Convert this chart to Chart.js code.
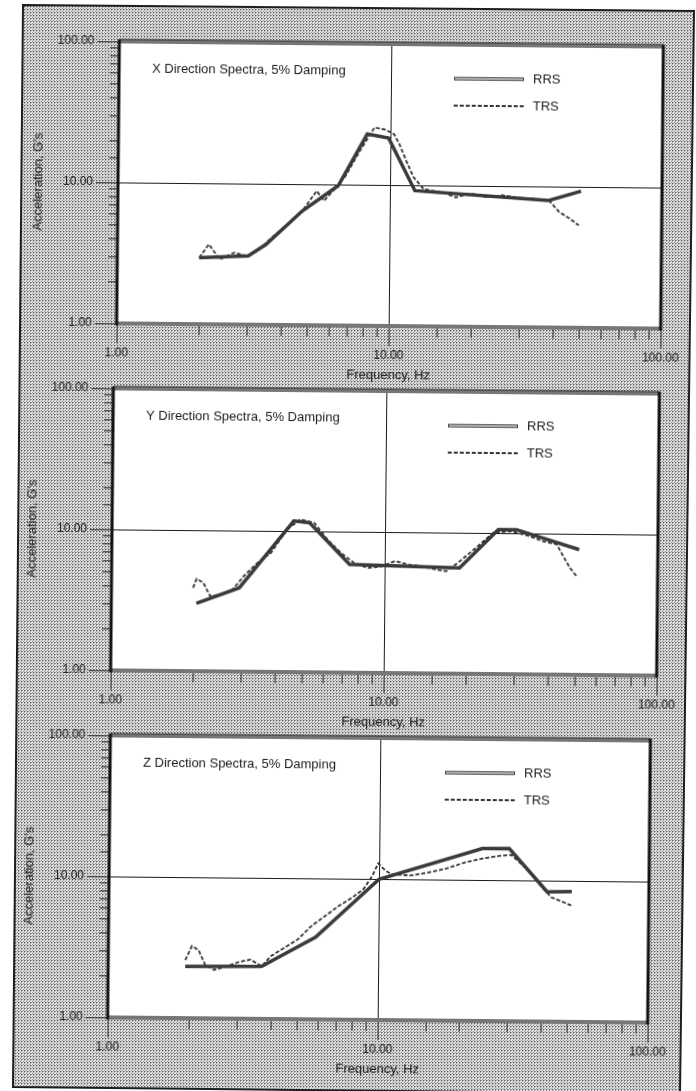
<!DOCTYPE html>
<html>
<head>
<meta charset="utf-8">
<script src="https://cdn.jsdelivr.net/npm/chart.js@4.4.1/dist/chart.umd.min.js"></script>
<style>
  html, body { margin: 0; padding: 0; background: #fff; }
  #page { position: relative; width: 696px; height: 1091px; overflow: hidden; }
  #bg { position: absolute; left: 0; top: 0; }
  canvas { position: absolute; }
</style>
</head>
<body>
<div id="page">
  <svg id="bg" width="696" height="1091">
    <defs>
      <pattern id="dots" width="3" height="3" patternUnits="userSpaceOnUse">
        <rect width="3" height="3" fill="#dcdcdc"/>
        <rect width="1" height="1" fill="#5e5e5e"/>
        <rect x="1" y="0" width="1" height="1" fill="#a8a8a8"/>
        <rect x="0" y="1" width="1" height="1" fill="#a8a8a8"/>
        <rect x="2" y="2" width="1" height="1" fill="#9a9a9a"/>
      </pattern>
    </defs>
    <polygon points="23,5 694,11 680,1094 13,1087" fill="url(#dots)" stroke="#1e1e1e" stroke-width="2"/>
  </svg>
</div>
<script>
// decade ticks on both log axes
const decadeTicks = [1, 10, 100];
const decadeLabels = ["1.00", "10.00", "100.00"];

// X direction: required (RRS) and test (TRS) response spectra, Hz vs G
const xRrsHz = [2.0, 3.03, 3.52, 4.77, 6.45, 8.22, 9.85, 12.35, 38.4, 50.4];
const xRrsG = [2.96, 3.07, 3.72, 6.46, 9.8, 22.9, 21.5, 9.15, 7.97, 9.3];
const xTrsHz = [2.0, 2.17, 2.38, 2.69, 3.03, 3.32, 3.75, 4.22, 4.77, 5.38, 5.72, 6.26, 6.86, 7.73, 8.73, 9.56,
  10.3, 10.8, 11.45, 12.2, 13.3, 15.5, 17.5, 19.7, 22.9, 25.9, 30.1, 34.0, 38.4, 42.0, 46.0, 49.6];
const xTrsG = [2.96, 3.69, 2.89, 3.23, 3.05, 3.43, 4.28, 5.19, 6.46, 8.98, 7.65, 9.27, 11.5, 17.4, 25.5, 24.7,
  23.0, 19.5, 14.9, 11.4, 9.4, 8.95, 8.26, 8.85, 8.3, 8.6, 8.27, 8.17, 7.97, 6.6, 5.93, 5.33];

// Y direction
const yRrsHz = [2.05, 2.94, 4.63, 5.29, 7.44, 18.8, 26.0, 30.3, 51.5];
const yRrsG = [3.03, 3.93, 11.8, 11.5, 5.85, 5.63, 10.6, 10.6, 7.73];
const yTrsHz = [1.99, 2.05, 2.17, 2.30, 2.52, 2.78, 3.05, 3.42, 3.83, 4.38, 4.9, 5.5, 6.16, 6.9, 7.72, 8.66,
  9.7, 10.9, 12.2, 13.65, 15.3, 16.8, 18.5, 21.5, 25.0, 29.1, 33.9, 38.0, 42.6, 45.1, 47.7, 50.5];
const yTrsG = [3.9, 4.52, 4.24, 3.42, 3.51, 3.82, 4.76, 5.93, 7.0, 10.3, 12.1, 11.5, 8.78, 7.07, 6.0, 5.55,
  5.68, 6.23, 5.9, 5.75, 5.47, 5.32, 6.1, 7.8, 10.1, 10.3, 9.55, 8.8, 8.4, 6.9, 5.73, 5.0];

// Z direction
const zRrsHz = [1.93, 3.70, 5.85, 10.0, 24.1, 30.3, 42.0, 51.8];
const zRrsG = [2.33, 2.36, 3.83, 9.95, 16.7, 16.8, 8.33, 8.4];
const zTrsHz = [1.93, 2.04, 2.16, 2.29, 2.47, 2.72, 3.06, 3.36, 3.70, 4.0, 4.48, 5.02, 5.63, 6.32, 7.09, 7.95,
  8.75, 9.44, 9.92, 10.6, 11.2, 13.1, 15.2, 17.7, 20.7, 24.1, 28.1, 30.9, 35.3, 39.7, 43.6, 47.9, 51.8];
const zTrsG = [2.58, 3.25, 3.04, 2.39, 2.21, 2.33, 2.53, 2.63, 2.36, 2.79, 3.2, 3.67, 4.58, 5.4, 6.38, 7.33,
  8.42, 10.5, 12.9, 11.4, 10.8, 10.65, 11.2, 11.97, 13.25, 14.2, 14.9, 15.1, 12.0, 9.18, 7.6, 7.1, 6.66];

const FONT = '"Liberation Sans", Arial, Helvetica, sans-serif';
const INK = "#1a1a1a";
const RRS_EDGE = "#3a3a3a";
const RRS_FILL = "#a8a8a8";
const TRS_COLOR = "#333333";

// plot area of each panel on the page: left, top, right, bottom
const panels = [
  { title: "X Direction Spectra, 5% Damping", area: [118, 44, 662, 326],
    rrs: [xRrsHz, xRrsG], trs: [xTrsHz, xTrsG] },
  { title: "Y Direction Spectra, 5% Damping", area: [112, 391, 658, 673],
    rrs: [yRrsHz, yRrsG], trs: [yTrsHz, yTrsG] },
  { title: "Z Direction Spectra, 5% Damping", area: [109, 738, 649, 1020],
    rrs: [zRrsHz, zRrsG], trs: [zTrsHz, zTrsG] },
];

const Y_AXIS_W = 96, PAD_TOP = 12, PAD_RIGHT = 26, X_AXIS_H = 66;

function isDecade(v) {
  return decadeTicks.indexOf(v) !== -1;
}

function points(hz, g) {
  return hz.map(function (f, i) { return { x: f, y: g[i] }; });
}

function logAxis(title, vertical) {
  return {
    type: "logarithmic",
    min: 1,
    max: 100,
    border: { display: false },
    grid: {
      color: function (c) { return c.tick && c.tick.value === 10 ? INK : "rgba(0,0,0,0)"; },
      lineWidth: 1,
      drawTicks: true,
      tickLength: vertical ? 22 : 20,
      tickColor: function (c) { return c.tick && isDecade(c.tick.value) ? "#2a2a2a" : "rgba(0,0,0,0)"; },
      tickWidth: 1,
    },
    ticks: {
      autoSkip: false,
      maxRotation: 0,
      padding: vertical ? 3 : 2,
      color: INK,
      font: { family: FONT, size: 12 },
      callback: function (v) {
        const i = decadeTicks.indexOf(v);
        return i === -1 ? "" : decadeLabels[i];
      },
    },
    title: {
      display: true,
      text: title,
      color: INK,
      font: { family: FONT, size: 13 },
      padding: vertical ? { top: 9 } : { bottom: 9 },
    },
    afterFit: function (s) {
      if (vertical) s.width = Y_AXIS_W;
      else s.height = X_AXIS_H;
    },
  };
}

function strokeLine(ctx, x1, y1, x2, y2) {
  ctx.beginPath();
  ctx.moveTo(x1, y1);
  ctx.lineTo(x2, y2);
  ctx.stroke();
}

function panelPlugin(panel) {
  return {
    id: "panelDecor",
    beforeDraw: function (chart) {
      const a = chart.chartArea, ctx = chart.ctx;
      ctx.save();
      ctx.fillStyle = "#ffffff";
      ctx.fillRect(a.left, a.top, a.right - a.left, a.bottom - a.top);
      ctx.restore();
    },
    afterDatasetsDraw: function (chart) {
      const a = chart.chartArea, ctx = chart.ctx;
      const sx = chart.scales.x, sy = chart.scales.y;
      ctx.save();

      // short minor tick marks outside the plot
      ctx.strokeStyle = "#2a2a2a";
      ctx.lineWidth = 1;
      sy.ticks.forEach(function (t) {
        if (isDecade(t.value)) return;
        const py = Math.round(sy.getPixelForValue(t.value)) + 0.5;
        strokeLine(ctx, a.left - 9, py, a.left, py);
      });
      sx.ticks.forEach(function (t) {
        if (isDecade(t.value)) return;
        const px = Math.round(sx.getPixelForValue(t.value)) + 0.5;
        strokeLine(ctx, px, a.bottom, px, a.bottom + 11);
      });

      // plot frame
      ctx.strokeStyle = "#777";
      ctx.lineWidth = 4;
      strokeLine(ctx, a.left, a.top, a.right, a.top);
      strokeLine(ctx, a.left, a.bottom, a.right, a.bottom);
      ctx.strokeStyle = "#2a2a2a";
      ctx.lineWidth = 1;
      strokeLine(ctx, a.left, a.top - 2, a.right, a.top - 2);
      ctx.strokeStyle = "#111";
      ctx.lineWidth = 3;
      strokeLine(ctx, a.left, a.top - 2, a.left, a.bottom + 2);
      strokeLine(ctx, a.right, a.top - 2, a.right, a.bottom + 2);

      // panel title
      ctx.fillStyle = INK;
      ctx.font = "13px " + FONT;
      ctx.textBaseline = "middle";
      ctx.textAlign = "left";
      ctx.fillText(panel.title, a.left + 33, a.top + 27);

      // legend
      const lx1 = a.left + 335, lx2 = a.left + 405, tx = a.left + 414;
      const ry = a.top + 34, ty = a.top + 61;
      ctx.lineWidth = 3.5;
      ctx.strokeStyle = RRS_EDGE;
      strokeLine(ctx, lx1, ry, lx2, ry);
      ctx.lineWidth = 1.8;
      ctx.strokeStyle = RRS_FILL;
      strokeLine(ctx, lx1 + 1, ry, lx2 - 1, ry);
      ctx.lineWidth = 1.8;
      ctx.strokeStyle = TRS_COLOR;
      ctx.setLineDash([4, 2]);
      strokeLine(ctx, lx1, ty, lx2, ty);
      ctx.setLineDash([]);
      ctx.fillText("RRS", tx, ry);
      ctx.fillText("TRS", tx, ty);

      ctx.restore();
    },
  };
}

const page = document.getElementById("page");

panels.forEach(function (panel) {
  const l = panel.area[0], t = panel.area[1], r = panel.area[2], b = panel.area[3];
  const w = r - l, h = b - t;
  const canvas = document.createElement("canvas");
  canvas.width = w + Y_AXIS_W + PAD_RIGHT;
  canvas.height = h + PAD_TOP + X_AXIS_H;
  canvas.style.left = (l - Y_AXIS_W) + "px";
  canvas.style.top = (t - PAD_TOP) + "px";
  // the scanned sheet is slightly rotated
  canvas.style.transformOrigin = (Y_AXIS_W + w / 2) + "px " + (PAD_TOP + h / 2) + "px";
  canvas.style.transform = "rotate(0.55deg)";
  page.appendChild(canvas);

  const rrsData = points(panel.rrs[0], panel.rrs[1]);
  const trsData = points(panel.trs[0], panel.trs[1]);

  new Chart(canvas.getContext("2d"), {
    type: "line",
    data: {
      datasets: [
        { label: "RRS", data: rrsData, borderColor: RRS_EDGE, borderWidth: 3.5, pointRadius: 0, tension: 0 },
        { label: "RRS", data: rrsData, borderColor: RRS_FILL, borderWidth: 1.8, pointRadius: 0, tension: 0 },
        { label: "TRS", data: trsData, borderColor: TRS_COLOR, borderWidth: 1.8, borderDash: [4, 2],
          pointRadius: 0, tension: 0 },
      ],
    },
    options: {
      responsive: false,
      animation: false,
      devicePixelRatio: 1,
      layout: { padding: { top: PAD_TOP, right: PAD_RIGHT, left: 0, bottom: 0 } },
      plugins: {
        legend: { display: false },
        tooltip: { enabled: false },
      },
      scales: {
        x: logAxis("Frequency, Hz", false),
        y: logAxis("Acceleration, G's", true),
      },
    },
    plugins: [panelPlugin(panel)],
  });
});
</script>
</body>
</html>
